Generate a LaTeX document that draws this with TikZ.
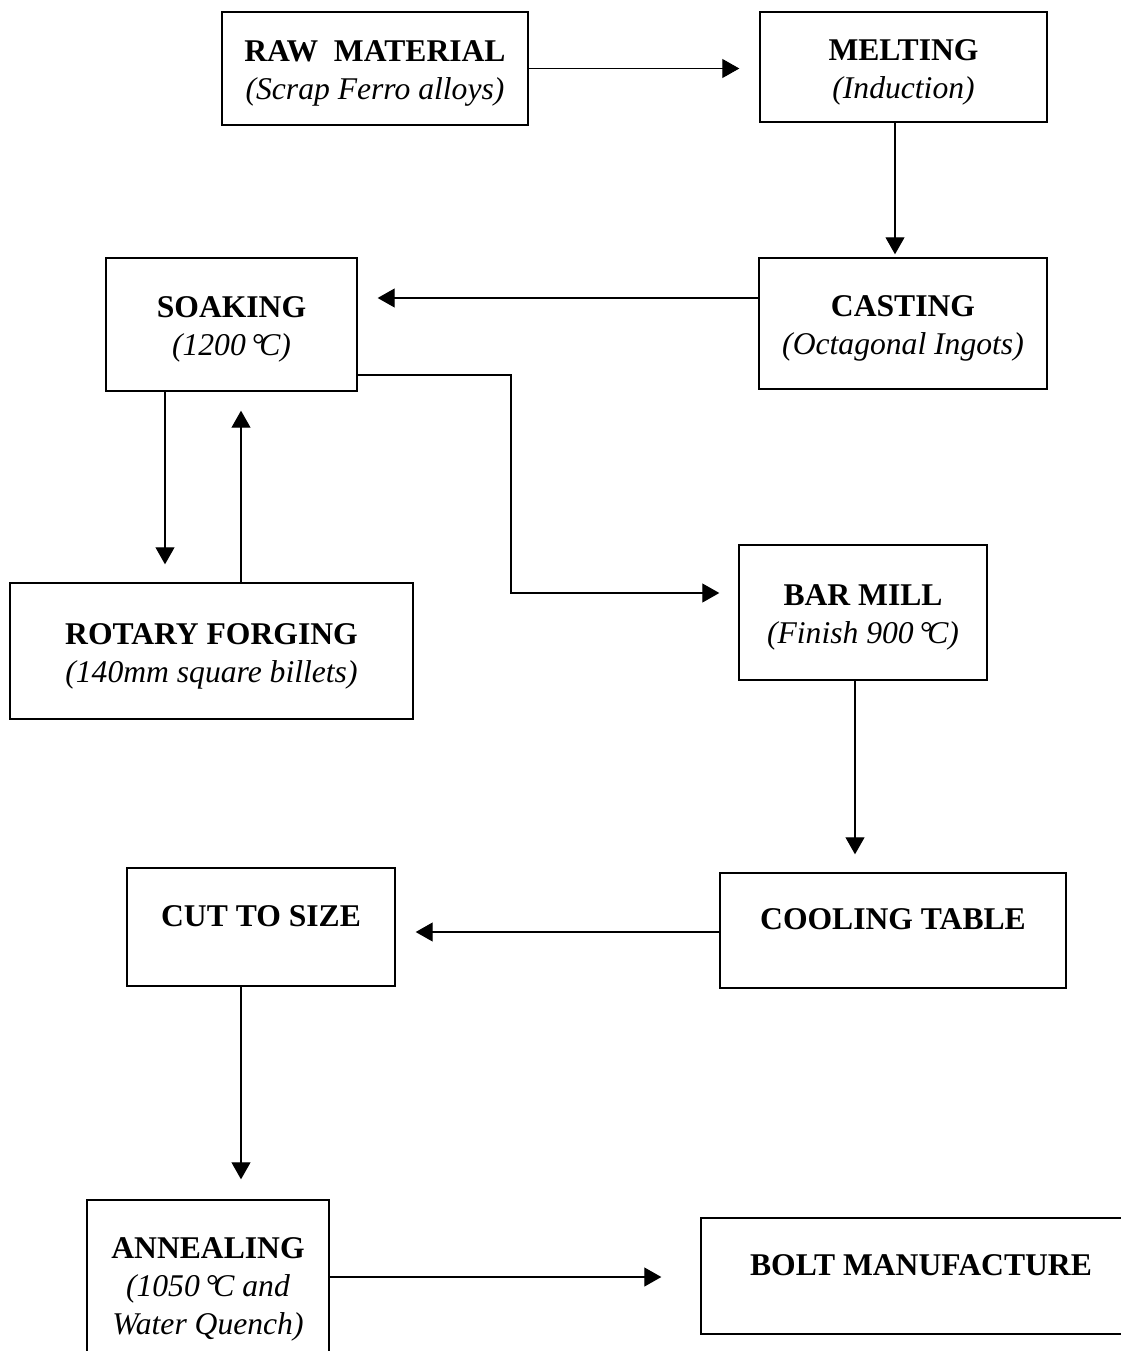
\documentclass[tikz,border=0pt]{standalone}
\usepackage{fontspec}
\setmainfont{Liberation Serif}
\usetikzlibrary{arrows.meta,positioning,calc}
\newcommand{\degC}{\,°\kern-2.5pt C}
\newcommand{\stagename}[1]{\rule{0pt}{18pt}\textbf{#1}}

\tikzset{
  stagebox/.style 2 args={draw,line width=0.8pt,align=center,inner sep=0pt,
    minimum width=#1*0.02cm,minimum height=#2*0.02cm,
    font=\fontsize{18}{21.6}\selectfont},
  oneline/.style={execute at end node=\rule[-13pt]{0pt}{0pt}},
  flow/.style={-{Triangle[length=0.34cm,width=0.38cm]},line width=0.6pt}
}

\begin{document}
\begin{tikzpicture}[x=0.02cm,y=-0.02cm]
\useasboundingbox (0,0) rectangle (1120,1351);
% process stages
\node[stagebox={306}{113}] (raw) at (375,68.5) {\stagename{RAW\ \ MATERIAL}\\\textit{(Scrap Ferro alloys)}};
\node[stagebox={287}{110}] (melt) at (903.5,67) {\stagename{MELTING}\\\textit{(Induction)}};
\node[stagebox={288}{131}] (cast) at (903,323.5) {\stagename{CASTING}\\\textit{(Octagonal Ingots)}};
\node[stagebox={251}{133}] (soak) at (231.5,324.5) {\stagename{SOAKING}\\\textit{(1200\degC)}};
\node[stagebox={403}{136}] (forge) at (211.5,651) {\stagename{ROTARY FORGING}\\\textit{(140mm square billets)}};
\node[stagebox={248}{135}] (mill) at (863,612.5) {\stagename{BAR MILL}\\\textit{(Finish 900\degC)}};
\node[stagebox={346}{115},oneline] (cool) at (893,930.5) {\textbf{COOLING TABLE}};
\node[stagebox={268}{118},oneline] (cut) at (261,927) {\textbf{CUT TO SIZE}};
\node[stagebox={242}{168}] (anneal) at (208,1284) {\stagename{ANNEALING}\\\textit{(1050\degC{} and}\\\textit{Water Quench)}};
\node[stagebox={440}{116},oneline] (bolt) at (921,1276) {\textbf{BOLT MANUFACTURE}};

% connectors
\draw[flow,shorten >=20*0.02cm] (raw.east) -- (raw.east -| melt.west);
\draw[flow,shorten >=3*0.02cm] (melt.south -| 895,0) -- (cast.north -| 895,0);
\draw[flow,shorten >=20*0.02cm] (cast.west |- 0,298) -- (soak.east |- 0,298);
\draw[flow,shorten >=18*0.02cm] (soak.south -| 165,0) -- (forge.north -| 165,0);
\draw[flow,shorten >=19*0.02cm] (forge.north -| 241,0) -- (soak.south -| 241,0);
\coordinate (bend) at (511,593);
\draw[flow,shorten >=19*0.02cm] (soak.east |- 0,375) -| (bend) -- (bend -| mill.west);
\draw[flow,shorten >=18*0.02cm] (mill.south -| 855,0) -- (cool.north -| 855,0);
\draw[flow,shorten >=20*0.02cm] (cool.west |- 0,932) -- (cut.east |- 0,932);
\draw[flow,shorten >=20*0.02cm] (cut.south -| 241,0) -- (anneal.north -| 241,0);
\draw[flow,shorten >=39*0.02cm] (anneal.east |- 0,1277) -- (bolt.west |- 0,1277);
\end{tikzpicture}
\end{document}
